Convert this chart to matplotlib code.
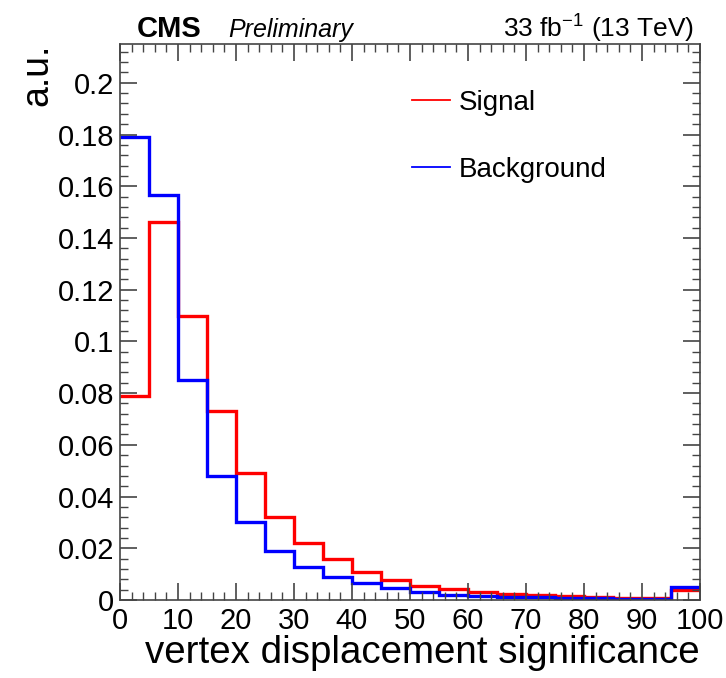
import matplotlib
matplotlib.use("Agg")
import matplotlib.pyplot as plt
import numpy as np
from matplotlib.ticker import MultipleLocator
from matplotlib.lines import Line2D

bin_edges = [0, 5, 10, 15, 20, 25, 30, 35, 40, 45, 50, 55, 60, 65, 70, 75, 80, 85, 90, 95, 100]
signal = [0.079, 0.146, 0.110, 0.073, 0.049, 0.032, 0.022, 0.0157, 0.0108, 0.0077,
          0.0055, 0.0041, 0.0030, 0.0024, 0.0019, 0.0015, 0.0013, 0.0009, 0.0008, 0.0039]
background = [0.179, 0.1565, 0.085, 0.048, 0.030, 0.0188, 0.0129, 0.009, 0.0065, 0.0045,
              0.0030, 0.0019, 0.0015, 0.0012, 0.0010, 0.0008, 0.0006, 0.0004, 0.0002, 0.0050]
y_tick_labels = ['0', '0.02', '0.04', '0.06', '0.08', '0.1', '0.12', '0.14', '0.16', '0.18', '0.2']

plt.rcParams['font.family'] = ['Liberation Sans', 'DejaVu Sans']

fig = plt.figure(figsize=(7.26, 6.78), dpi=100)
ax = fig.add_axes([120/726, 78/678, 580/726, 556/678])

ax.stairs(signal, bin_edges, color='#ff0000', lw=2.4, baseline=None)
ax.stairs(background, bin_edges, color='#0000ff', lw=2.4, baseline=None)

ax.set_xlim(0, 100)
ax.set_ylim(0, 0.215)
ax.xaxis.set_major_locator(MultipleLocator(10))
ax.xaxis.set_minor_locator(MultipleLocator(2))
ax.yaxis.set_minor_locator(MultipleLocator(0.004))
ax.set_yticks(np.arange(0, 0.2001, 0.02))
ax.set_yticklabels(y_tick_labels)
ax.tick_params(which='both', direction='in', top=True, right=True, labelsize=21, color='#444444')
ax.tick_params(which='major', length=12, width=1.2)
ax.tick_params(which='minor', length=6, width=1.0)
ax.tick_params(axis='x', pad=5)
ax.tick_params(axis='y', pad=4)
for s in ax.spines.values():
    s.set_linewidth(1.2)
    s.set_color('#444444')
    s.set_zorder(3)

ax.set_xlabel('vertex displacement significance', fontsize=27.7, loc='right', labelpad=0)
ax.set_ylabel('a.u.', fontsize=27, loc='top', labelpad=2)

fig.text(137/726, 1 - 37/678, 'CMS', fontsize=21, fontweight='bold', ha='left', va='baseline')
fig.text(228/726, 1 - 37/678, 'Preliminary', fontsize=18, style='italic', ha='left', va='baseline')
fig.text(694/726, 1 - 37/678, '33 fb$^{\\mathregular{-1}}$ (13 TeV)', fontsize=19, ha='right', va='baseline')

handles = [Line2D([], [], color='#ff0000', lw=1.3), Line2D([], [], color='#0000ff', lw=1.3)]
leg = ax.legend(handles, ['Signal', 'Background'], loc='upper left', bbox_to_anchor=(0.46, 0.963),
                frameon=False, fontsize=20, handlelength=1.37, labelspacing=1.48, handletextpad=0.33)

fig.savefig('out.png', dpi=100)
